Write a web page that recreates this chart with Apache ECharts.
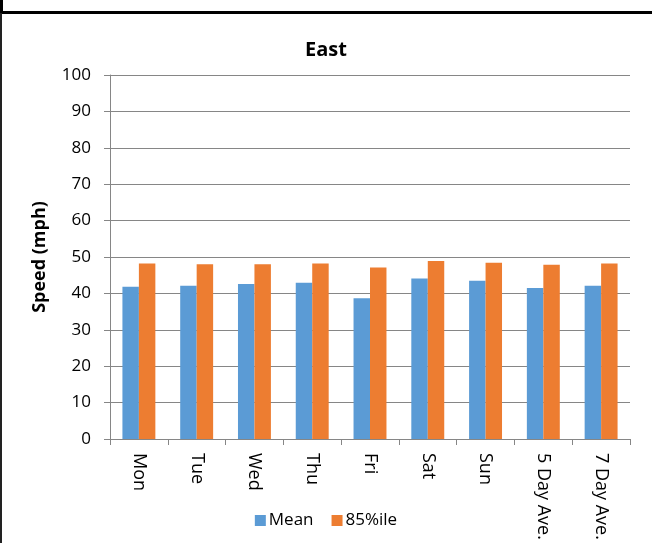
<!DOCTYPE html>
<html>
<head>
<meta charset="utf-8">
<script src="https://cdn.jsdelivr.net/npm/echarts@6/dist/echarts.min.js"></script>
<style>
html,body{margin:0;padding:0;background:#fff;}
#c{width:652px;height:543px;}
</style>
</head>
<body>
<div id="c"></div>
<script>
const categories = ['Mon','Tue','Wed','Thu','Fri','Sat','Sun','5 Day Ave.','7 Day Ave.'];
const meanValues = [41.8, 42.1, 42.6, 42.9, 38.7, 44.1, 43.5, 41.5, 42.1];
const p85Values = [48.2, 48.0, 48.0, 48.2, 47.1, 48.9, 48.4, 47.9, 48.2];
const yTicks = [0,10,20,30,40,50,60,70,80,90,100];

const FONT = '"Open Sans", "Noto Sans", sans-serif';
const chart = echarts.init(document.getElementById('c'), null, {renderer:'canvas'});
chart.setOption({
  animation: false,
  backgroundColor: '#fff',
  title: {
    text: 'East', left: 'center', top: 35,
    textStyle: {fontFamily: FONT, fontSize: 20, fontWeight: 'bold', color: '#000'}
  },
  legend: {
    bottom: 9, left: 'center',
    itemWidth: 11, itemHeight: 11, itemGap: 18,
    icon: 'rect',
    textStyle: {fontFamily: FONT, fontSize: 17, color: '#000', padding: [0, 0, 0, -2]},
    data: ['Mean','85%ile']
  },
  grid: {left: 110, right: 22, top: 75, bottom: 104, containLabel: false},
  xAxis: {
    type: 'category', data: categories,
    axisLine: {lineStyle: {color: '#868686', width: 1}},
    axisTick: {show: true, alignWithLabel: false, length: 6, lineStyle: {color: '#868686'}},
    axisLabel: {rotate: -90, margin: 14, fontFamily: FONT, fontSize: 18, color: '#000', interval: 0}
  },
  yAxis: {
    type: 'value', min: 0, max: 100, interval: 10,
    name: 'Speed (mph)', nameLocation: 'middle', nameGap: 61, nameRotate: 90,
    nameTextStyle: {fontFamily: FONT, fontSize: 18, fontWeight: 'bold', color: '#000'},
    axisLine: {show: true, lineStyle: {color: '#868686'}},
    axisTick: {show: true, length: 6, lineStyle: {color: '#868686'}},
    axisLabel: {margin: 19, fontFamily: FONT, fontSize: 17, color: '#000',
      formatter: v => yTicks.includes(v) ? String(v) : ''},
    splitLine: {show: true, lineStyle: {color: '#868686', width: 1}}
  },
  series: [
    {name: 'Mean', type: 'bar', data: meanValues, itemStyle: {color: '#5B9BD5'},
     barGap: '0%', barCategoryGap: '43%'},
    {name: '85%ile', type: 'bar', data: p85Values, itemStyle: {color: '#ED7D31'},
     barGap: '0%', barCategoryGap: '43%'}
  ],
  graphic: [
    {type: 'rect', shape: {x: 0, y: 11, width: 652, height: 3}, style: {fill: '#000'}, silent: true},
    {type: 'rect', shape: {x: 0, y: 0, width: 3, height: 13}, style: {fill: '#000'}, silent: true},
    {type: 'rect', shape: {x: 0, y: 13, width: 2, height: 530}, style: {fill: '#222'}, silent: true}
  ]
});
</script>
</body>
</html>
